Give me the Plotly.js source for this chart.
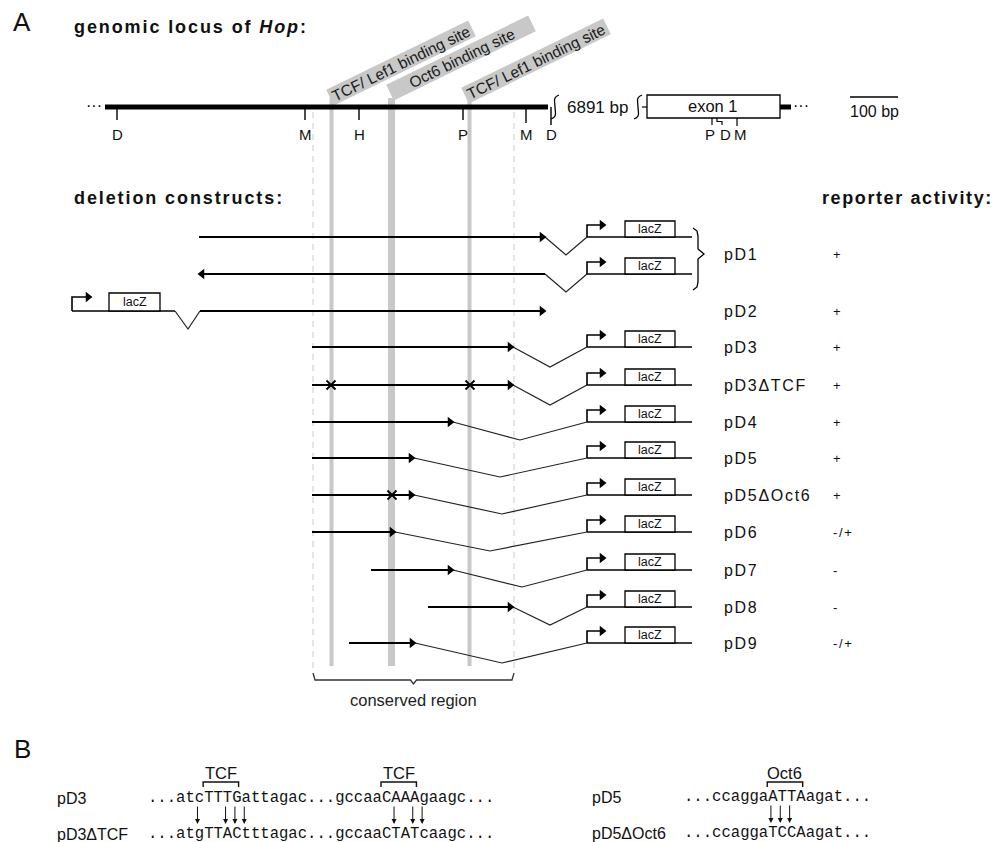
<!DOCTYPE html>
<html><head><meta charset="utf-8">
<script src="https://cdn.plot.ly/plotly-3.0.1.min.js"></script>
<style>body{margin:0;background:#fff}#chart{width:998px;height:842px}</style>
</head><body><div id="chart"></div>
<script>
// ---------------- data ----------------
// binding sites (grey bands) and their labels
const siteLabels = ['TCF/ Lef1 binding site', 'Oct6 binding site', 'TCF/ Lef1 binding site'];
const siteX = [331.5, 391.5, 469.5];
const siteWidth = [4, 7, 4];
const siteLabelX = [401, 461, 536];
const siteLabelY = [63, 58, 61];

// restriction sites on the genomic locus
const locusSites = ['D', 'M', 'H', 'P', 'M', 'D'];
const locusSiteX = [117, 305, 359, 463, 526, 551];
const locusTickLen = [13, 13, 13, 13, 16, 18];
const exonSites = ['P', 'D', 'M'];
const exonSiteX = [710, 725, 740];
const gapLabel = '6891 bp';
const scaleLabel = '100 bp';

// conserved region
const conservedFrom = 313, conservedTo = 514;

// deletion constructs
const constructs = ['pD1', 'pD2', 'pD3', 'pD3ΔTCF', 'pD4', 'pD5', 'pD5ΔOct6', 'pD6', 'pD7', 'pD8', 'pD9'];
const constructY = [254, 311, 347, 385, 422, 458, 495, 532, 570, 607, 643];
const activity = ['+', '+', '+', '+', '+', '+', '+', '-/+', '-', '-', '-/+'];

// fragment rows (pD1 drawn in both orientations)
const fragY     = [237, 274, 311, 347, 385, 422, 458, 495, 532, 570, 607, 643];
const fragStart = [199, 199, 200, 312, 312, 312, 312, 312, 312, 371, 428, 349];
const fragEnd   = [545, 545, 545, 513, 513, 453, 414, 414, 395, 453, 513, 415];
const fragDir   = [1, -1, 1, 1, 1, 1, 1, 1, 1, 1, 1, 1];
const reporterSide = ['R', 'R', 'L', 'R', 'R', 'R', 'R', 'R', 'R', 'R', 'R', 'R'];
const dipX      = [566, 566, null, 550, 550, 520, 500, 502, 490, 522, 550, 502];
const dipDrop   = [18, 18, null, 20, 20, 18, 19, 19, 19, 17, 18, 20];
const mutX      = [[], [], [], [], [331, 470], [], [], [392], [], [], [], []];

// panel B sequences
const seqTCFwt  = '...atcTTTGattagac...gccaaCAAAgaagc...';
const seqTCFmut = '...atgTTACtttagac...gccaaCTATcaagc...';
const seqOctWt  = '...ccaggaATTAagat...';
const seqOctMut = '...ccaggaTCCAagat...';

// ---------------- drawing ----------------
const SANS = 'Liberation Sans, Arial, Helvetica, sans-serif';
const MONO = 'Liberation Mono, Courier New, monospace';
const traces = [];
const shapes = [];
const ann = [];
const spacing = [];
function A(o, sp) {
  const a = Object.assign({showarrow: false, xref: 'x', yref: 'y'}, o);
  if (a.xanchor === 'left') a.align = 'left';
  ann.push(a); spacing.push(sp || 0);
}
function L(x0, y0, x1, y1, w, c, dash, layer) {
  shapes.push({type: 'line', xref: 'x', yref: 'y', x0, y0, x1, y1,
    line: {color: c || '#000', width: w || 1, dash: dash || 'solid'}, layer: layer || 'above'});
}
function R(x0, y0, x1, y1, fill, lw, lc, layer) {
  shapes.push({type: 'rect', xref: 'x', yref: 'y', x0, y0, x1, y1, fillcolor: fill,
    line: {color: lc || '#000', width: lw}, layer: layer || 'above'});
}
function poly(xs, ys, w, c, shape) {
  traces.push({x: xs, y: ys, mode: 'lines', type: 'scatter', hoverinfo: 'skip',
    line: {color: c || '#000', width: w, shape: shape || 'linear', smoothing: 1.3}});
}
function marks(xs, ys, sym, size, lw) {
  traces.push({x: xs, y: ys, mode: 'markers', type: 'scatter', hoverinfo: 'skip',
    marker: {symbol: sym, size: size, color: '#000', line: {color: '#000', width: lw || 0}}});
}

// headings
A({x: 22, y: 22, text: 'A', font: {family: SANS, size: 26, color: '#111'}});
A({x: 72, y: 27, xanchor: 'left', text: '<b>genomic locus of <i>Hop</i>:</b>', font: {family: SANS, size: 18, color: '#111'}}, 1.9);
A({x: 72, y: 198, xanchor: 'left', text: '<b>deletion constructs:</b>', font: {family: SANS, size: 18, color: '#111'}}, 1.9);
A({x: 820, y: 198, xanchor: 'left', text: '<b>reporter activity:</b>', font: {family: SANS, size: 18, color: '#111'}}, 1.6);

// grey binding-site bands + rotated labels on rotated grey boxes
const ANG = 26 * Math.PI / 180, BOXL = 158, BOXH = 17.5;
siteX.forEach((x, i) => {
  R(x - siteWidth[i] / 2, 98, x + siteWidth[i] / 2, 666, '#c8c8c8', 0, 'rgba(0,0,0,0)', 'below');
  const cx = siteLabelX[i], cy = siteLabelY[i];
  const ux = Math.cos(ANG) * BOXL / 2, uy = -Math.sin(ANG) * BOXL / 2;
  const nx = Math.sin(ANG) * BOXH / 2, ny = Math.cos(ANG) * BOXH / 2;
  const pts = [[cx - ux - nx, cy - uy - ny], [cx + ux - nx, cy + uy - ny], [cx + ux + nx, cy + uy + ny], [cx - ux + nx, cy - uy + ny]];
  shapes.push({type: 'path', xref: 'x', yref: 'y', layer: 'below', fillcolor: '#c8c8c8', line: {width: 0},
    path: 'M' + pts.map(p => p[0].toFixed(1) + ',' + p[1].toFixed(1)).join('L') + 'Z'});
  A({x: cx, y: cy, text: siteLabels[i], textangle: -26, font: {family: SANS, size: 15.5, color: '#1a1a1a'}});
});
// conserved region dashed borders and bracket
[conservedFrom, conservedTo].forEach(x => L(x, 112, x, 672, 1.2, '#d4d4d4', '6px,5px', 'below'));
const cm = (conservedFrom + conservedTo) / 2;
poly([conservedFrom, conservedFrom + 2, cm - 3, cm, cm + 3, conservedTo - 2, conservedTo],
     [673, 680, 680, 684, 680, 680, 673], 1.3, '#333');
A({x: cm, y: 700, text: 'conserved region', font: {family: SANS, size: 16.5, color: '#222'}});

// genomic locus
L(105, 107, 548, 107, 5, '#000');
A({x: 94, y: 105, text: '···', font: {family: SANS, size: 16, color: '#000'}});
locusSites.forEach((s, i) => {
  L(locusSiteX[i], 107, locusSiteX[i], 107 + locusTickLen[i], 1.4, '#000');
  A({x: locusSiteX[i], y: 134, text: s, font: {family: SANS, size: 15, color: '#111'}});
});
// break squiggles and gap size
poly([559, 555, 555, 555, 551], [95, 98, 107, 116, 119], 1.3, '#000', 'spline');
A({x: 565, y: 107, xanchor: 'left', text: gapLabel, font: {family: SANS, size: 17, color: '#111'}});
poly([642, 638, 638, 638, 634], [95, 98, 107, 116, 119], 1.3, '#000', 'spline');
L(642, 107, 647, 107, 1.2, '#000');
// exon 1
R(647, 95, 780, 118, '#fff', 1.3, '#000');
A({x: 713, y: 106, text: 'exon 1', font: {family: SANS, size: 16.5, color: '#111'}});
L(780, 107, 791, 107, 5, '#000');
A({x: 801, y: 105, text: '···', font: {family: SANS, size: 16, color: '#000'}});
L(712, 118, 712, 125, 1.2, '#000');
poly([717, 717, 722, 722], [118, 121.5, 121.5, 125], 1.2, '#000');
L(737, 118, 737, 126, 1.2, '#000');
exonSites.forEach((s, i) => A({x: exonSiteX[i], y: 134, text: s, font: {family: SANS, size: 15, color: '#111'}}));
// scale bar
L(850, 97, 898, 97, 1.4, '#000');
A({x: 874, y: 111, text: scaleLabel, font: {family: SANS, size: 16, color: '#111'}});

// constructs
const promR = 587, boxR = [625, 675], endR = 692;
const promL = 72, boxL = [109, 160], endL = 175;
const fx = [], fy = [], dx = [], dy = [], bx = [], by = [];
const arrX = [], arrY = [], arlX = [], arlY = [], pmX = [], pmY = [], xX = [], xY = [];
fragY.forEach((y, i) => {
  fx.push(fragStart[i], fragEnd[i], null); fy.push(y, y, null);
  if (fragDir[i] > 0) { arrX.push(fragEnd[i] - 3); arrY.push(y); }
  else { arlX.push(fragStart[i] + 3); arlY.push(y); }
  mutX[i].forEach(m => { xX.push(m); xY.push(y); });
  if (reporterSide[i] === 'R') {
    dx.push(fragEnd[i], dipX[i], promR, null); dy.push(y, y + dipDrop[i], y, null);
    bx.push(promR, endR, null, promR, promR, promR + 14, null); by.push(y, y, null, y, y - 12, y - 12, null);
    pmX.push(promR + 15); pmY.push(y - 12);
    R(boxR[0], y - 16, boxR[1], y, '#fff', 1.3, '#000');
    A({x: (boxR[0] + boxR[1]) / 2, y: y - 8, text: 'lacZ', font: {family: SANS, size: 12.5, color: '#111'}});
  } else {
    dx.push(endL, endL + 13, fragStart[i], null); dy.push(y, y + 18, y, null);
    bx.push(promL, endL, null, promL, promL, promL + 15, null); by.push(y, y, null, y, y - 14, y - 14, null);
    pmX.push(promL + 16); pmY.push(y - 14);
    R(boxL[0], y - 18, boxL[1], y, '#fff', 1.3, '#000');
    A({x: (boxL[0] + boxL[1]) / 2, y: y - 9, text: 'lacZ', font: {family: SANS, size: 12.5, color: '#111'}});
  }
});
poly(dx, dy, 1.2, '#222');
poly(bx, by, 1.6, '#000');
poly(fx, fy, 2, '#000');
marks(arrX, arrY, 'triangle-right', 9);
marks(arlX, arlY, 'triangle-left', 9);
marks(pmX, pmY, 'triangle-right', 9);
marks(xX, xY, 'x-thin-open', 9, 1.8);

// pD1 brace
poly([693, 697, 698, 698, 704, 698, 698, 697, 693], [228, 231, 236, 249, 254, 259, 282, 287, 290], 1.3, '#000');

constructs.forEach((c, i) => {
  A({x: 722, y: constructY[i], xanchor: 'left', text: c, font: {family: SANS, size: 16, color: '#111'}}, 1.7);
  A({x: 831, y: constructY[i], xanchor: 'left', text: activity[i], font: {family: SANS, size: 13, color: '#111'}}, 1.6);
});

// ---------------- panel B ----------------
A({x: 22, y: 749, text: 'B', font: {family: SANS, size: 26, color: '#111'}});
const FS = 15.6, CW = FS * 0.6;
function seqBlock(labelX, seqX, wt, mut, wtLab, mutLab, siteName, yWt, yMut) {
  A({x: labelX, y: yWt, xanchor: 'left', text: wtLab, font: {family: SANS, size: 16, color: '#111'}});
  A({x: labelX, y: yMut, xanchor: 'left', text: mutLab, font: {family: SANS, size: 16, color: '#111'}});
  A({x: seqX, y: yWt, xanchor: 'left', text: wt, font: {family: MONO, size: FS, color: '#111'}});
  A({x: seqX, y: yMut, xanchor: 'left', text: mut, font: {family: MONO, size: FS, color: '#111'}});
  // site brackets over uppercase runs of the wild-type
  const re = /[A-Z]+/g; let m;
  while ((m = re.exec(wt)) !== null) {
    const x0 = seqX + m.index * CW + 1, x1 = seqX + (m.index + m[0].length) * CW - 1;
    poly([x0, x0, x1, x1], [787, 782, 782, 787], 1.4, '#111');
    A({x: (x0 + x1) / 2, y: 773, text: siteName, font: {family: SANS, size: 16.5, color: '#111'}});
  }
  // arrows at changed nucleotides
  for (let k = 0; k < wt.length; k++) {
    if (wt[k].toLowerCase() !== mut[k].toLowerCase()) {
      const x = seqX + (k + 0.5) * CW;
      ann.push({x: x, y: yMut - 10, ax: x, ay: yWt + 7, xref: 'x', yref: 'y', axref: 'x', ayref: 'y',
        showarrow: true, arrowhead: 2, arrowsize: 1, arrowwidth: 1, arrowcolor: '#111', text: ''});
      spacing.push(0);
    }
  }
}
seqBlock(55, 146, seqTCFwt, seqTCFmut, 'pD3', 'pD3ΔTCF', 'TCF', 798, 834);
seqBlock(590, 682, seqOctWt, seqOctMut, 'pD5', 'pD5ΔOct6', 'Oct6', 797, 833);

const layout = {
  width: 998, height: 842, margin: {l: 0, r: 0, t: 0, b: 0},
  paper_bgcolor: '#fff', plot_bgcolor: '#fff', showlegend: false,
  xaxis: {range: [0, 998], visible: false, fixedrange: true},
  yaxis: {range: [842, 0], visible: false, fixedrange: true},
  shapes: shapes, annotations: ann
};
Plotly.newPlot('chart', traces, layout, {staticPlot: true, displayModeBar: false}).then(gd => {
  spacing.forEach((sp, i) => {
    if (!sp) return;
    const t = gd.querySelector('g.annotation[data-index="' + i + '"] text.annotation-text');
    if (t) t.style.letterSpacing = sp + 'px';
  });
});
</script>
</body></html>
